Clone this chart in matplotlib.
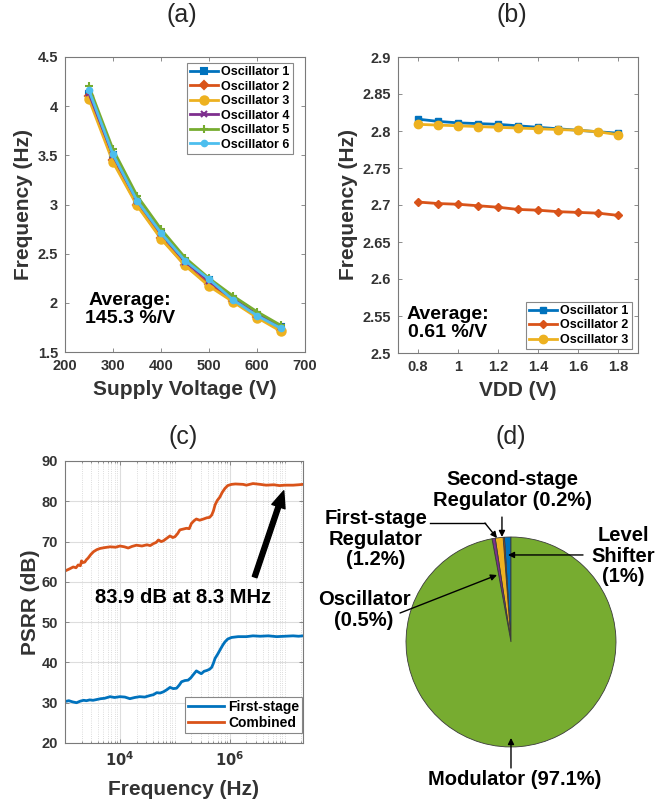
import numpy as np
import matplotlib
matplotlib.use('Agg')
import matplotlib.pyplot as plt
from matplotlib.ticker import LogLocator, NullFormatter, FixedLocator

plt.rcParams['font.family'] = ['Liberation Sans', 'DejaVu Sans']
plt.rcParams['font.weight'] = 'bold'
plt.rcParams['mathtext.default'] = 'bf'

# ---------------- data ----------------
# (a)
supply_voltage = [250, 300, 350, 400, 450, 500, 550, 600, 650]
osc1_a = [4.12, 3.50, 3.03, 2.70, 2.42, 2.23, 2.04, 1.88, 1.75]
osc2_a = [4.10, 3.45, 3.00, 2.66, 2.38, 2.19, 2.02, 1.86, 1.72]
osc3_a = [4.07, 3.43, 2.99, 2.65, 2.38, 2.17, 2.01, 1.85, 1.71]
osc4_a = [4.13, 3.50, 3.04, 2.71, 2.42, 2.22, 2.04, 1.88, 1.75]
osc5_a = [4.20, 3.56, 3.09, 2.75, 2.46, 2.25, 2.07, 1.91, 1.77]
osc6_a = [4.16, 3.51, 3.04, 2.71, 2.43, 2.24, 2.03, 1.87, 1.74]

# (b)
vdd = [0.8, 0.9, 1.0, 1.1, 1.2, 1.3, 1.4, 1.5, 1.6, 1.7, 1.8]
osc1_b = [2.816, 2.813, 2.811, 2.810, 2.809, 2.807, 2.805, 2.803, 2.801, 2.799, 2.797]
osc2_b = [2.704, 2.702, 2.701, 2.699, 2.697, 2.694, 2.693, 2.691, 2.690, 2.689, 2.686]
osc3_b = [2.809, 2.808, 2.807, 2.806, 2.805, 2.804, 2.803, 2.802, 2.801, 2.799, 2.795]

# (c)  log10(frequency in Hz) and PSRR in dB
log_f_comb = [3.00, 3.08, 3.15, 3.20, 3.24, 3.28, 3.30, 3.33, 3.36, 3.39,
              3.42, 3.47, 3.52, 3.58, 3.64, 3.72, 3.82, 3.92, 4.00, 4.08,
              4.15, 4.22, 4.30, 4.40, 4.49, 4.55, 4.61, 4.66, 4.70, 4.75,
              4.79, 4.85, 4.91, 4.96, 5.00, 5.05, 5.09, 5.15, 5.21, 5.26,
              5.30, 5.35, 5.39, 5.45, 5.52, 5.58, 5.63, 5.67, 5.70, 5.73,
              5.77, 5.82, 5.86, 5.91, 5.96, 6.03, 6.10, 6.24, 6.30, 6.42,
              6.55, 6.66, 6.80, 6.90, 7.00, 7.15, 7.25, 7.33]
psrr_comb = [62.7, 63.2, 63.7, 63.5, 64.2, 64.0, 65.2, 64.8, 64.9, 65.5,
             65.9, 66.8, 67.5, 68.0, 68.3, 68.5, 68.7, 68.6, 68.9, 68.7,
             68.4, 68.8, 69.1, 68.9, 69.2, 69.0, 69.5, 69.8, 70.4, 70.0,
             70.2, 70.8, 71.4, 71.0, 71.2, 72.0, 72.9, 73.1, 73.3, 73.2,
             74.5, 75.2, 75.6, 75.3, 75.6, 75.9, 76.0, 76.6, 77.6, 79.1,
             80.2, 81.1, 82.2, 83.2, 83.9, 84.2, 84.3, 84.2, 84.0, 84.4,
             84.2, 84.0, 84.1, 83.9, 84.0, 84.0, 84.1, 84.2]
log_f_first = [3.00, 3.07, 3.14, 3.21, 3.28, 3.34, 3.39, 3.45, 3.51, 3.58,
               3.65, 3.72, 3.82, 3.90, 4.00, 4.09, 4.18, 4.27, 4.36, 4.45,
               4.55, 4.61, 4.67, 4.73, 4.79, 4.85, 4.91, 4.97, 5.03, 5.08,
               5.12, 5.18, 5.24, 5.29, 5.33, 5.39, 5.44, 5.48, 5.53, 5.58,
               5.63, 5.67, 5.70, 5.73, 5.78, 5.82, 5.87, 5.91, 5.96, 6.03,
               6.15, 6.30, 6.42, 6.55, 6.70, 6.85, 7.00, 7.15, 7.25, 7.33]
psrr_first = [30.3, 30.5, 30.2, 30.0, 30.4, 30.6, 30.5, 30.7, 30.6, 30.8,
              31.0, 31.1, 31.5, 31.3, 31.5, 31.4, 31.0, 31.3, 31.5, 31.4,
              31.8, 32.0, 32.5, 32.4, 32.7, 33.2, 33.8, 33.5, 33.6, 34.4,
              35.2, 35.5, 35.6, 36.2, 36.9, 37.9, 37.5, 37.2, 37.8, 38.0,
              38.3, 38.8, 39.8, 41.0, 42.1, 43.1, 44.3, 45.1, 45.8, 46.2,
              46.4, 46.4, 46.6, 46.5, 46.6, 46.4, 46.5, 46.6, 46.5, 46.6]

# (d)
pie_labels = ['Level Shifter', 'Second-stage Regulator', 'First-stage Regulator',
              'Oscillator', 'Modulator']
pie_values = [1.0, 0.2, 1.2, 0.5, 97.1]

# ---------------- style ----------------
C_BLUE = '#0072BD'
C_ORANGE = '#D95319'
C_YELLOW = '#EDB120'
C_PURPLE = '#7E2F8E'
C_GREEN = '#77AC30'
C_LBLUE = '#4DBEEE'
TICK_C = '#333333'
SPINE_C = '#7a7a7a'

W, H = 669, 800
fig = plt.figure(figsize=(W / 100, H / 100), dpi=100)


def px_axes(l, t, r, b):
    return fig.add_axes([l / W, 1 - b / H, (r - l) / W, (b - t) / H])


def style_axes(ax):
    for s in ax.spines.values():
        s.set_color(SPINE_C)
        s.set_linewidth(0.8)
    ax.tick_params(which='both', direction='in', top=True, right=True,
                   color=SPINE_C, labelcolor=TICK_C, labelsize=10.5, width=0.6, pad=5)
    ax.tick_params(which='major', length=3)
    ax.tick_params(which='minor', length=1.5)
    for lbl in ax.get_xticklabels() + ax.get_yticklabels():
        lbl.set_fontweight('bold')


LBL_FS = 15

# ---------------- (a) ----------------
ax_a = px_axes(65, 57, 305, 352)
series_a = [(osc1_a, C_BLUE, 's', 4, 'Oscillator 1'),
            (osc2_a, C_ORANGE, 'D', 4, 'Oscillator 2'),
            (osc3_a, C_YELLOW, 'o', 6, 'Oscillator 3'),
            (osc4_a, C_PURPLE, 'x', 4, 'Oscillator 4'),
            (osc5_a, C_GREEN, '+', 6, 'Oscillator 5'),
            (osc6_a, C_LBLUE, 'o', 4, 'Oscillator 6')]
for vals, c, m, ms, lab in series_a:
    ax_a.plot(supply_voltage, vals, color=c, marker=m, markersize=ms, lw=2,
              markeredgewidth=1.5, label=lab)
ax_a.set_xlim(200, 700)
ax_a.set_ylim(1.5, 4.5)
ax_a.set_xticks([200, 300, 400, 500, 600, 700])
ax_a.set_yticks([1.5, 2, 2.5, 3, 3.5, 4, 4.5])
ax_a.set_yticklabels(['1.5', '2', '2.5', '3', '3.5', '4', '4.5'])
style_axes(ax_a)
ax_a.set_xlabel('Supply Voltage (V)', fontsize=LBL_FS, fontweight='bold',
                color='#333333', labelpad=5)
ax_a.set_ylabel('Frequency (Hz)', fontsize=LBL_FS, fontweight='bold',
                color='#333333', labelpad=3)
ax_a.text(335, 1.93, 'Average:\n145.3 %/V', ha='center', va='center',
          fontsize=14, fontweight='bold', color='black', linespacing=1.05)
leg = ax_a.legend(loc='upper right', bbox_to_anchor=(0.95, 0.98), borderaxespad=0,
                  frameon=True, fancybox=False, framealpha=1,
                  edgecolor='#888888', labelspacing=0.2, handlelength=2.2,
                  handletextpad=0.3, borderpad=0.25, prop={'weight': 'bold', 'size': 9})
leg.get_frame().set_linewidth(0.8)

# ---------------- (b) ----------------
ax_b = px_axes(398, 57, 638, 353)
series_b = [(osc1_b, C_BLUE, 's', 4, 'Oscillator 1'),
            (osc2_b, C_ORANGE, 'D', 4, 'Oscillator 2'),
            (osc3_b, C_YELLOW, 'o', 6, 'Oscillator 3')]
for vals, c, m, ms, lab in series_b:
    ax_b.plot(vdd, vals, color=c, marker=m, markersize=ms, lw=2, label=lab)
ax_b.set_xlim(0.7, 1.9)
ax_b.set_ylim(2.5, 2.9)
ax_b.set_xticks([0.8, 1.0, 1.2, 1.4, 1.6, 1.8])
ax_b.set_xticklabels(['0.8', '1', '1.2', '1.4', '1.6', '1.8'])
ax_b.set_yticks([2.5, 2.55, 2.6, 2.65, 2.7, 2.75, 2.8, 2.85, 2.9])
ax_b.set_yticklabels(['2.5', '2.55', '2.6', '2.65', '2.7', '2.75', '2.8', '2.85', '2.9'])
style_axes(ax_b)
ax_b.set_xlabel('VDD (V)', fontsize=LBL_FS, fontweight='bold', color='#333333', labelpad=5)
ax_b.set_ylabel('Frequency (Hz)', fontsize=LBL_FS, fontweight='bold', color='#333333',
                labelpad=3)
ax_b.text(0.95, 2.540, 'Average:\n0.61 %/V', ha='center', va='center',
          fontsize=14, fontweight='bold', color='black', linespacing=1.05)
leg = ax_b.legend(loc='lower right', bbox_to_anchor=(0.975, 0.0135), borderaxespad=0,
                  frameon=True, fancybox=False, framealpha=1, edgecolor='#888888',
                  labelspacing=0.2, handlelength=2.2, handletextpad=0.3, borderpad=0.25,
                  prop={'weight': 'bold', 'size': 9})
leg.get_frame().set_linewidth(0.8)

# ---------------- (c) ----------------
ax_c = px_axes(65, 461, 303, 743)
freq_comb = np.power(10.0, log_f_comb)
freq_first = np.power(10.0, log_f_first)
ax_c.plot(freq_first, psrr_first, color=C_BLUE, lw=2, label='First-stage')
ax_c.plot(freq_comb, psrr_comb, color=C_ORANGE, lw=2, label='Combined')
ax_c.set_xscale('log')
ax_c.set_xlim(1e3, 10 ** 7.33)
ax_c.set_ylim(20, 90)
ax_c.set_yticks([20, 30, 40, 50, 60, 70, 80, 90])
ax_c.xaxis.set_major_locator(FixedLocator([1e4, 1e6]))
ax_c.xaxis.set_minor_locator(LogLocator(base=10, subs=np.arange(1, 10), numticks=20))
ax_c.xaxis.set_minor_formatter(NullFormatter())
ax_c.grid(True, which='major', color='#dddddd', lw=0.8)
ax_c.grid(True, which='minor', axis='x', color='#d0d0d0', lw=0.6, ls=':')
ax_c.set_axisbelow(True)
style_axes(ax_c)
ax_c.set_xticklabels(['$\\mathbf{10^{4}}$', '$\\mathbf{10^{6}}$'])
ax_c.set_xlabel('Frequency (Hz)', fontsize=LBL_FS, fontweight='bold', color='#333333',
                labelpad=8)
ax_c.set_ylabel('PSRR (dB)', fontsize=LBL_FS, fontweight='bold', color='#333333',
                labelpad=1)
ax_c.text(10 ** 5.145, 56.2, '83.9 dB at 8.3 MHz', ha='center', va='center',
          fontsize=14.5, fontweight='bold', color='black')
ax_c.annotate('', xy=(10 ** 6.98, 82.6), xytext=(10 ** 6.45, 61.2),
              arrowprops=dict(facecolor='black', edgecolor='black', width=3.5,
                              headwidth=10, headlength=12, shrink=0))
leg = ax_c.legend(loc='lower right', bbox_to_anchor=(0.995, 0.035), borderaxespad=0,
                  frameon=True, fancybox=False, framealpha=1, edgecolor='#888888',
                  labelspacing=0.15, handlelength=2.6, handletextpad=0.3, borderpad=0.2,
                  prop={'weight': 'bold', 'size': 10})
leg.get_frame().set_linewidth(0.8)

# ---------------- (d) ----------------
ax_d = fig.add_axes([334.5 / W, 0, 334.5 / W, 0.5])
ax_d.pie(pie_values, colors=[C_BLUE, C_ORANGE, C_YELLOW, C_PURPLE, C_GREEN],
         startangle=90, counterclock=True,
         wedgeprops=dict(edgecolor='#3a3a3a', linewidth=0.6))
ax_d.set_aspect('auto')
ax_d.set_xlim(-1.681, 1.505)
ax_d.set_ylim(-1.505, 2.305)
ax_d.axis('off')

PIE_FS = 14.5
arw = dict(arrowstyle='-|>', color='black', lw=1.0, mutation_scale=9, shrinkA=0, shrinkB=0)
ax_d.text(0.01, 1.448, 'Second-stage\nRegulator (0.2%)', ha='center', va='center',
          fontsize=PIE_FS, fontweight='bold', linespacing=1.1)
ax_d.annotate('', xy=(-0.086, 1.0), xytext=(-0.086, 1.19), arrowprops=arw)

ax_d.text(-1.286, 0.981, 'First-stage\nRegulator\n(1.2%)', ha='center', va='center',
          fontsize=PIE_FS, fontweight='bold', linespacing=1.1)
ax_d.plot([-0.771, -0.248], [1.133, 1.133], color='black', lw=1.0)
ax_d.annotate('', xy=(-0.133, 0.99), xytext=(-0.248, 1.133), arrowprops=arw)

ax_d.text(-1.40, 0.305, 'Oscillator\n(0.5%)', ha='center', va='center',
          fontsize=PIE_FS, fontweight='bold', linespacing=1.1)
ax_d.annotate('', xy=(-0.133, 0.638), xytext=(-1.057, 0.276), arrowprops=arw)

ax_d.text(1.067, 0.819, 'Level\nShifter\n(1%)', ha='center', va='center',
          fontsize=PIE_FS, fontweight='bold', linespacing=1.1)
ax_d.annotate('', xy=(-0.029, 0.829), xytext=(0.686, 0.829), arrowprops=arw)

ax_d.text(0.038, -1.305, 'Modulator (97.1%)', ha='center', va='center',
          fontsize=PIE_FS, fontweight='bold')
ax_d.annotate('', xy=(0.0, -0.914), xytext=(0.0, -1.2), arrowprops=arw)

# ---------------- panel titles ----------------
for txt, x, y in [('(a)', 182, 15), ('(b)', 512, 15), ('(c)', 183, 437), ('(d)', 511, 437)]:
    fig.text(x / W, 1 - y / H, txt, ha='center', va='center', fontsize=18,
             fontweight='normal', color='#262626')

fig.savefig('out.png', dpi=100)
